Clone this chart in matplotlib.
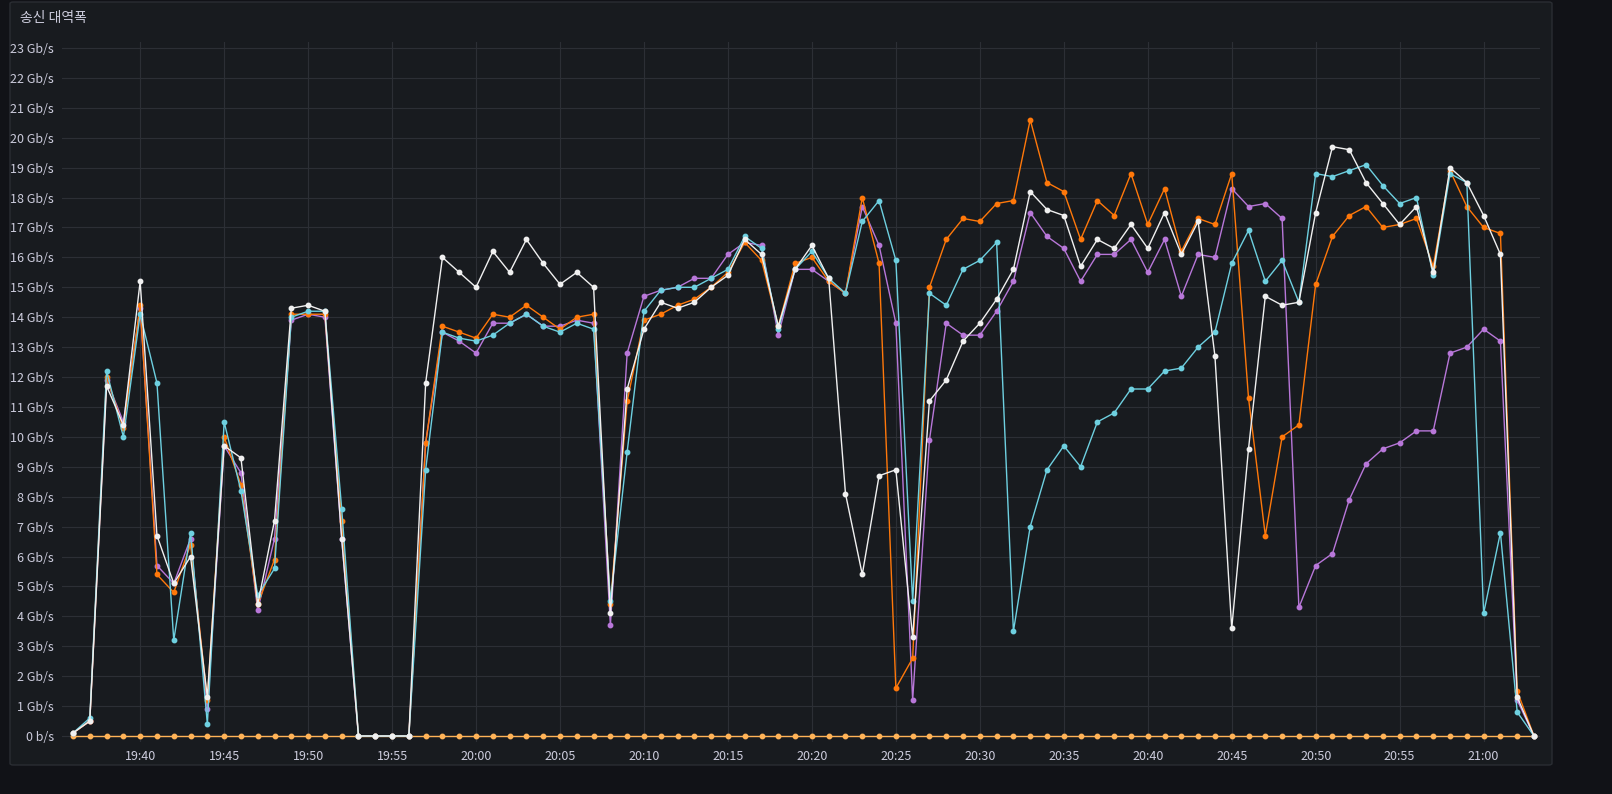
import matplotlib
matplotlib.use("Agg")
import matplotlib.pyplot as plt
from matplotlib.patches import FancyBboxPatch
import numpy as np

plt.rcParams['font.family'] = ['Noto Sans CJK KR', 'DejaVu Sans']

start_min = 19*60+36
minutes = list(range(88))
white = [0.1,0.5,11.7,10.4,15.2,6.7,5.1,6.0,1.3,9.7,9.3,4.4,7.2,14.3,14.4,14.2,6.6,0,0,0,0,11.8,16.0,15.5,15.0,16.2,15.5,16.6,15.8,15.1,15.5,15.0,4.1,11.6,13.6,14.5,14.3,14.5,15.0,15.4,16.6,16.1,13.7,15.6,16.4,15.3,8.1,5.4,8.7,8.9,3.3,11.2,11.9,13.2,13.8,14.6,15.6,18.2,17.6,17.4,15.7,16.6,16.3,17.1,16.3,17.5,16.1,17.2,12.7,3.6,9.6,14.7,14.4,14.5,17.5,19.7,19.6,18.5,17.8,17.1,17.7,15.5,19.0,18.5,17.4,16.1,1.3,0]
orange = [0.1,0.5,12.0,10.3,14.4,5.4,4.8,6.4,1.2,10.0,8.4,4.4,5.9,14.1,14.1,14.1,7.2,0,0,0,0,9.8,13.7,13.5,13.3,14.1,14.0,14.4,14.0,13.6,14.0,14.1,4.4,11.2,13.9,14.1,14.4,14.6,15.0,15.5,16.5,15.9,13.7,15.8,16.0,15.2,14.8,18.0,15.8,1.6,2.6,15.0,16.6,17.3,17.2,17.8,17.9,20.6,18.5,18.2,16.6,17.9,17.4,18.8,17.1,18.3,16.2,17.3,17.1,18.8,11.3,6.7,10.0,10.4,15.1,16.7,17.4,17.7,17.0,17.1,17.3,15.7,18.9,17.7,17.0,16.8,1.5,0]
purple = [0.1,0.5,11.9,10.5,14.3,5.7,5.1,6.6,0.9,9.7,8.8,4.2,6.6,13.9,14.1,14.0,6.6,0,0,0,0,9.8,13.5,13.2,12.8,13.8,13.8,14.1,13.7,13.7,13.9,13.8,3.7,12.8,14.7,14.9,15.0,15.3,15.3,16.1,16.5,16.4,13.4,15.6,15.6,15.2,14.8,17.7,16.4,13.8,1.2,9.9,13.8,13.4,13.4,14.2,15.2,17.5,16.7,16.3,15.2,16.1,16.1,16.6,15.5,16.6,14.7,16.1,16.0,18.3,17.7,17.8,17.3,4.3,5.7,6.1,7.9,9.1,9.6,9.8,10.2,10.2,12.8,13.0,13.6,13.2,1.2,0]
cyan = [0.1,0.6,12.2,10.0,14.1,11.8,3.2,6.8,0.4,10.5,8.2,4.7,5.6,14.0,14.2,14.2,7.6,0,0,0,0,8.9,13.5,13.3,13.2,13.4,13.8,14.1,13.7,13.5,13.8,13.6,4.5,9.5,14.2,14.9,15.0,15.0,15.3,15.6,16.7,16.3,13.6,15.6,16.2,15.3,14.8,17.2,17.9,15.9,4.5,14.8,14.4,15.6,15.9,16.5,3.5,7.0,8.9,9.7,9.0,10.5,10.8,11.6,11.6,12.2,12.3,13.0,13.5,15.8,16.9,15.2,15.9,14.5,18.8,18.7,18.9,19.1,18.4,17.8,18.0,15.4,18.8,18.5,4.1,6.8,0.8,0]
zero = [0]*88

W, H = 1612, 794
fig = plt.figure(figsize=(W/100, H/100), dpi=100, facecolor='#111217')
panel = FancyBboxPatch((10/W, 1-765/H), 1542/W, 763/H, boxstyle="round,pad=0,rounding_size=0.002",
                       transform=fig.transFigure, facecolor='#181b1f', edgecolor='#2a2d33', lw=1, zorder=-10)
fig.patches.append(panel)
fig.text(20/W, 1-18/H, '송신 대역폭', color='#ccccdc', fontsize=10, va='center', ha='left')

ax = fig.add_axes([62/W, 1-742/H, (1540-62)/W, (742-42)/H])
ax.set_facecolor('#181b1f')
ax.patch.set_alpha(0)
for s in ax.spines.values():
    s.set_visible(False)

series = [(zero,'#FFB357'),(purple,'#B877D9'),(orange,'#FF780A'),(cyan,'#6ED0E0'),(white,'#F0F0F0')]
for vals, c in series:
    ax.plot(minutes, vals, color=c, lw=1, marker='o', ms=3.2, zorder=3)

ax.set_ylim(-0.2, 23.2)
ax.set_xlim(-11/16.8, 87+6/16.8)
ax.set_yticks(range(24))
ax.set_yticklabels([f'{i} Gb/s' if i else '0 b/s' for i in range(24)])
xt = list(range(4, 88, 5))
ax.set_xticks(xt)
ax.set_xticklabels([f'{(start_min+m)//60:02d}:{(start_min+m)%60:02d}' for m in xt])
ax.tick_params(colors='#ccccdc', labelsize=9, length=0, pad=6)
ax.grid(True, color='#2c2f35', lw=0.8)
ax.set_axisbelow(True)

fig.savefig('out.png', dpi=100, facecolor=fig.get_facecolor())
